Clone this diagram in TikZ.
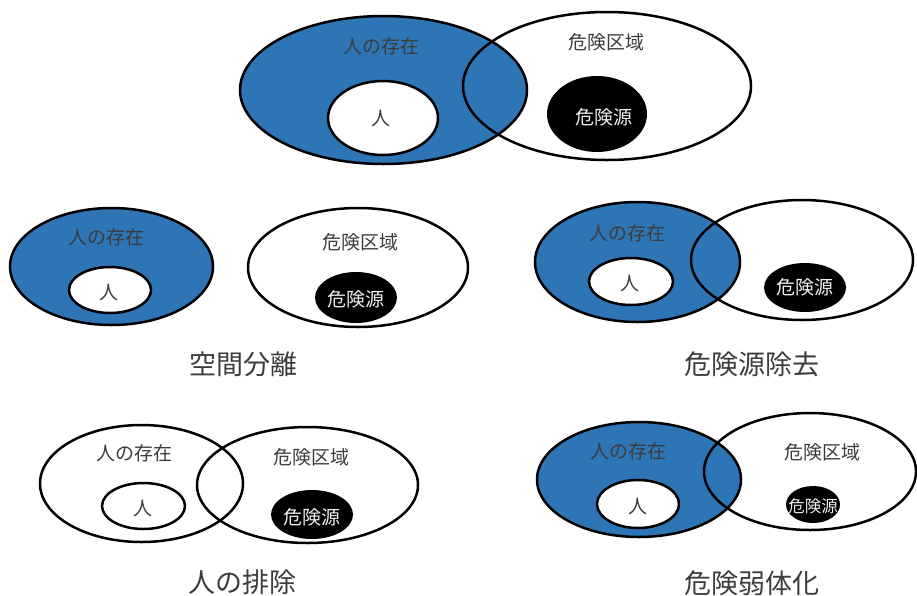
\documentclass[tikz,border=0pt]{standalone}
\usepackage{fontspec}
\setmainfont{Noto Sans CJK JP}
\definecolor{zoneblue}{RGB}{46,117,182}
\definecolor{inkgray}{RGB}{60,60,60}
\tikzset{
    outline/.style = {line width=2.5pt},
    tag/.style = {text=inkgray, inner sep=0pt, font=\fontsize{19}{19}\selectfont},
    srctag/.style = {text=gray!12, inner sep=0pt, font=\fontsize{19}{19}\selectfont},
    caption/.style = {text=inkgray, inner sep=0pt, font=\fontsize{27}{27}\selectfont}
}

\begin{document}
\begin{tikzpicture}[x=1pt, y=-1pt]
        \useasboundingbox (0, 0) rectangle (917, 595);
        % draw top group (before any measure)
        \fill[zoneblue] (383.5, 90) ellipse (143.5 and 74);
        \draw[outline] (383.5, 90) ellipse (143.5 and 74);
        \draw[outline] (607, 86) ellipse (144 and 74);
        \filldraw[outline, fill=white] (383, 118) ellipse (55 and 37);
        \fill (597, 114) ellipse (50 and 38);
        \node[tag] (top_exist) at (381, 46) {人の存在};
        \node[tag] (top_zone) at (606, 42) {危険区域};
        \node[tag] (top_person) at (381, 118) {人};
        \node[srctag] (top_source) at (604, 117) {危険源};
        % draw spatial separation group
        \filldraw[outline, fill=zoneblue] (111.5, 266.5) ellipse (101.5 and 58.5);
        \draw[outline] (358, 267.5) ellipse (110 and 59.5);
        \filldraw[outline, fill=white] (110, 290) ellipse (41 and 23);
        \fill (356, 297.5) ellipse (41 and 25.5);
        \node[tag] (sep_exist) at (106, 237) {人の存在};
        \node[tag] (sep_zone) at (360, 242) {危険区域};
        \node[tag] (sep_person) at (109, 292) {人};
        \node[srctag] (sep_source) at (356, 299) {危険源};
        \node[caption] (sep_caption) at (243, 364) {空間分離};
        % draw hazard removal group
        \fill[zoneblue] (637.5, 262) ellipse (102.5 and 60);
        \draw[outline] (637.5, 262) ellipse (102.5 and 60);
        \draw[outline] (802, 260) ellipse (111 and 60);
        \filldraw[outline, fill=white] (631, 281.5) ellipse (42 and 23.5);
        \fill (805, 287.5) ellipse (41 and 24.5);
        \node[tag] (rem_exist) at (627, 233) {人の存在};
        \node[tag] (rem_person) at (630, 283) {人};
        \node[srctag] (rem_source) at (805, 287) {危険源};
        \node[caption] (rem_caption) at (752, 364) {危険源除去};
        % draw exclusion of persons group
        \draw[outline] (141.5, 483.5) ellipse (101.5 and 58.5);
        \draw[outline] (307.5, 485) ellipse (110.5 and 58);
        \draw[outline] (143.5, 506) ellipse (41.5 and 23);
        \fill (312, 514.5) ellipse (41 and 24.5);
        \node[tag] (exc_exist) at (134, 453) {人の存在};
        \node[tag] (exc_zone) at (311, 457) {危険区域};
        \node[tag] (exc_person) at (143, 508) {人};
        \node[srctag] (exc_source) at (312, 517) {危険源};
        \node[caption] (exc_caption) at (242, 582) {人の排除};
        % draw weakening of hazard group
        \fill[zoneblue] (639, 479.5) ellipse (102 and 57.5);
        \draw[outline] (639, 479.5) ellipse (102 and 57.5);
        \draw[outline] (810, 471.5) ellipse (106 and 58.5);
        \filldraw[outline, fill=white] (638, 504) ellipse (41 and 24);
        \fill (813, 504.5) ellipse (27 and 18.5);
        \node[tag] (weak_exist) at (628, 451) {人の存在};
        \node[tag] (weak_zone) at (822, 452) {危険区域};
        \node[tag] (weak_person) at (638, 506) {人};
        \node[srctag, font=\fontsize{16.5}{16.5}\selectfont] (weak_source) at (813, 506) {危険源};
        \node[caption] (weak_caption) at (752, 583) {危険弱体化};
\end{tikzpicture}
\end{document}
